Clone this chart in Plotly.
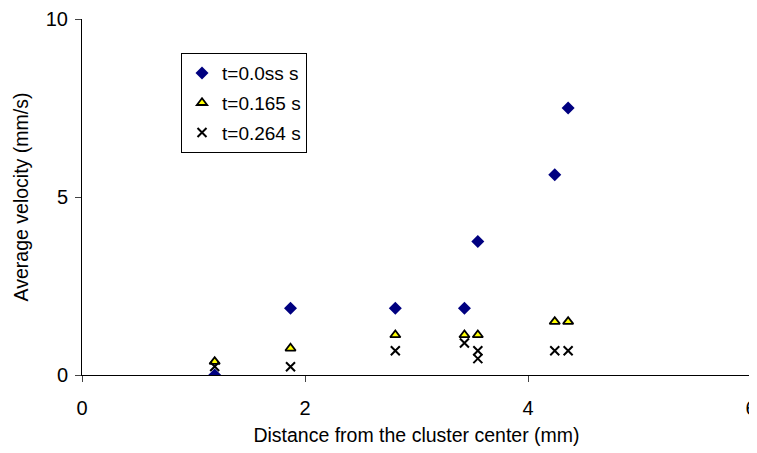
import plotly.graph_objects as go

x_pos = [1.19, 1.87, 2.81, 3.43, 3.55, 4.24, 4.36]
v_t0 = [0.0, 1.875, 1.875, 1.875, 3.75, 5.625, 7.5]
v_t165 = [0.375, 0.75, 1.125, 1.125, 1.125, 1.5, 1.5]
x_pos_264 = [1.19, 1.87, 2.81, 3.43, 3.55, 3.55, 4.24, 4.36]
v_t264 = [0.24, 0.23, 0.68, 0.9, 0.68, 0.46, 0.68, 0.68]

names = ["t=0.0ss s", "t=0.165 s", "t=0.264 s"]
x_ticks = [0, 2, 4, 6]
y_ticks = [0, 5, 10]

fig = go.Figure()
fig.add_trace(go.Scatter(x=x_pos, y=v_t0, mode="markers", name=names[0], legendgroup="a",
                         marker=dict(symbol="diamond", size=10, color="#000080")))
fig.add_trace(go.Scatter(x=x_pos, y=v_t165, mode="markers", name=names[1], legendgroup="b",
                         marker=dict(symbol="triangle-up", size=9, color="#FFFF00",
                                     line=dict(color="black", width=1.8))))
fig.add_trace(go.Scatter(x=x_pos_264, y=v_t264, mode="markers", name=names[2], legendgroup="c",
                         marker=dict(symbol="x-thin", size=9, color="black",
                                     line=dict(color="black", width=2))))

ff = "Liberation Sans, Arial, sans-serif"
tickfont = dict(family=ff, size=20, color="black")
titlefont = dict(family=ff, size=19.5, color="black")
fig.update_layout(
    width=757, height=453,
    margin=dict(l=74, r=14, t=11, b=86),
    plot_bgcolor="white", paper_bgcolor="white",
    font=dict(family=ff, size=19, color="black"),
    showlegend=True,
    legend=dict(x=0.148, y=0.904, xanchor="left", yanchor="top",
                bordercolor="black", borderwidth=1, bgcolor="white",
                font=dict(family=ff, size=19, color="black"),
                tracegroupgap=2, itemwidth=30),
    xaxis=dict(range=[0, 6], tickvals=x_ticks, ticks="outside", ticklen=6,
               showline=True, linecolor="black", linewidth=1, showgrid=False, zeroline=False,
               automargin=False, ticklabeloverflow="allow", ticklabelstandoff=9,
               title=dict(text="Distance from the cluster center (mm)", standoff=10, font=titlefont),
               tickfont=tickfont),
    yaxis=dict(range=[0, 10], tickvals=y_ticks, ticks="outside", ticklen=6,
               showline=True, linecolor="black", linewidth=1, showgrid=False, zeroline=False,
               automargin=False, ticklabeloverflow="allow", ticklabelstandoff=3,
               title=dict(text="Average velocity (mm/s)", standoff=11, font=titlefont),
               tickfont=tickfont),
)
fig.write_html("out.html")
